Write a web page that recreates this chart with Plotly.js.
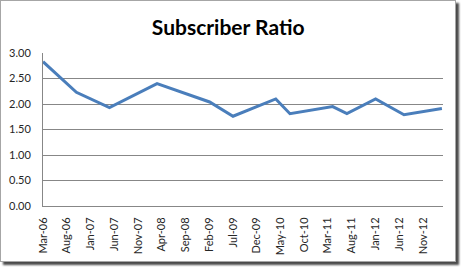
<!DOCTYPE html>
<html>
<head>
<meta charset="utf-8">
<script src="https://cdn.plot.ly/plotly-3.0.1.min.js"></script>
<style>
  html, body { margin: 0; padding: 0; background: #ffffff; }
  #wrap { position: relative; width: 461px; height: 267px; overflow: hidden; }
  #chart { position: absolute; left: 0; top: 0; width: 461px; height: 267px; }
  #frame { position: absolute; left: 0; top: 0; width: 454px; height: 260px;
           border: 1px solid #a6a6a6; box-shadow: 3px 3px 2px #4a4a4a; pointer-events: none; }
</style>
</head>
<body>
<div id="wrap">
  <div id="chart"></div>
  <div id="frame"></div>
</div>
<script>
// Data
const dates = ['2006-03-01','2006-10-01','2007-05-01','2008-03-01','2009-02-01','2009-07-01',
               '2010-04-01','2010-07-01','2011-04-01','2011-07-01','2012-01-01','2012-07-01','2013-03-01'];
const ratio = [2.83, 2.23, 1.93, 2.40, 2.04, 1.76, 2.10, 1.81, 1.95, 1.81, 2.10, 1.79, 1.91];

const tickDates = ['2006-03-01','2006-08-01','2007-01-01','2007-06-01','2007-11-01','2008-04-01',
                   '2008-09-01','2009-02-01','2009-07-01','2009-12-01','2010-05-01','2010-10-01',
                   '2011-03-01','2011-08-01','2012-01-01','2012-06-01','2012-11-01'];
const tickLabels = ['Mar-06','Aug-06','Jan-07','Jun-07','Nov-07','Apr-08','Sep-08','Feb-09',
                    'Jul-09','Dec-09','May-10','Oct-10','Mar-11','Aug-11','Jan-12','Jun-12','Nov-12'];
const yTicks = [0, 0.5, 1, 1.5, 2, 2.5, 3];

const trace = {
  type: 'scatter', mode: 'lines',
  x: dates, y: ratio,
  line: { color: '#4a7ebb', width: 3 },
  hoverinfo: 'skip'
};

const layout = {
  width: 461, height: 267,
  margin: { l: 43, r: 18, t: 53, b: 61 },
  paper_bgcolor: '#ffffff', plot_bgcolor: '#ffffff',
  showlegend: false,
  font: { family: 'Lato, "Open Sans", sans-serif', size: 11, color: '#262626' },
  title: {
    text: '<b>Subscriber Ratio</b>',
    font: { family: 'Lato, "Open Sans", sans-serif', size: 21, color: '#000000' },
    x: 0.495, xref: 'container', xanchor: 'center',
    y: 0.897, yref: 'container', yanchor: 'middle'
  },
  xaxis: {
    type: 'date',
    range: ['2006-03-01', '2013-03-08'],
    tickmode: 'array', tickvals: tickDates, ticktext: tickLabels,
    tickangle: -90,
    showgrid: false, zeroline: false,
    showline: true, linecolor: '#878787', linewidth: 1,
    ticks: '', ticklabelstandoff: 6,
    tickfont: { size: 11, color: '#262626' },
    fixedrange: true
  },
  yaxis: {
    range: [0, 3],
    tickmode: 'array', tickvals: yTicks,
    tickformat: '.2f',
    showgrid: true, gridcolor: '#878787', gridwidth: 1,
    zeroline: false,
    showline: true, linecolor: '#878787', linewidth: 1,
    ticks: '', ticklabelstandoff: 9,
    tickfont: { size: 11, color: '#262626' },
    fixedrange: true
  }
};

Plotly.newPlot('chart', [trace], layout, { staticPlot: true, displayModeBar: false });
</script>
</body>
</html>
